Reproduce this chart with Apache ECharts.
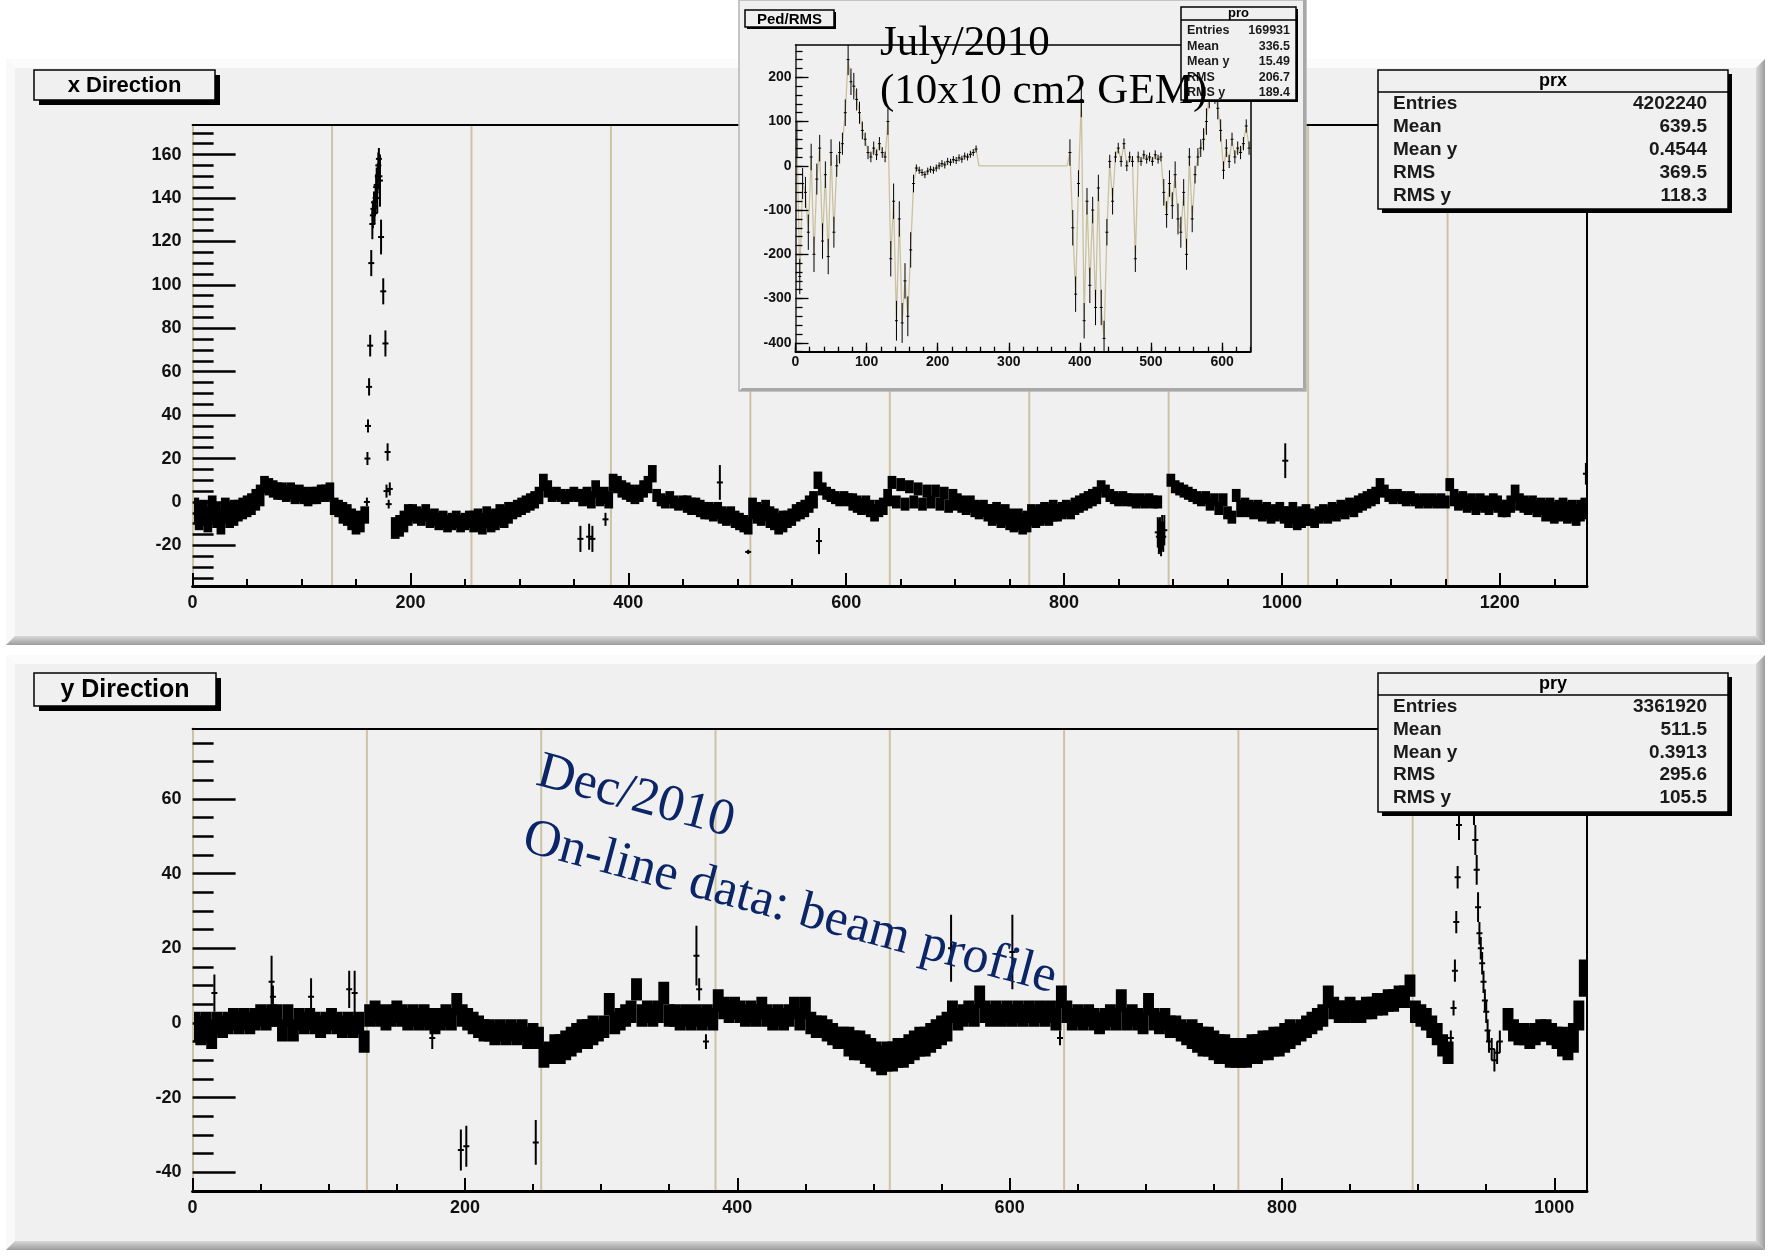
<!DOCTYPE html>
<html>
<head>
<meta charset="utf-8">
<script src="https://cdn.jsdelivr.net/npm/echarts@6/dist/echarts.min.js"></script>
<style>
  html, body { margin: 0; padding: 0; background: #ffffff; }
  #main { width: 1776px; height: 1257px; }
</style>
</head>
<body>
<div id="main"></div>
<script>
// ---------------------------------------------------------------
// Profile data: one stored point per BIN strips (value, error)
// ---------------------------------------------------------------
const BIN = 4;

// x Direction profile (prx), strips 0..1279, rows of 64 strips
const prxValues = [
  -4,-7,-5,-8,-3,-6,-9,-4,-6,-5,-4,-3,-2,-1,1,3,
  8,7,6,5,5,4,5,3,4,3,2,3,3,4,4,5,
  -2,-3,-5,-6,-8,-10,-9,-6,null,null,null,null,null,null,-12,-11,
  -9,-6,-5,-6,-7,-5,-8,-7,-9,-8,-10,-9,-8,-10,-9,-8,
  -9,-8,-10,-7,-9,-8,-6,-7,-5,-4,-3,-2,-1,0,1,3,
  9,6,3,4,3,2,3,4,3,2,3,1,6,2,3,1,
  9,8,6,5,4,3,4,6,8,13,3,1,0,2,0,-1,
  0,-1,-2,-2,-3,-4,-4,-5,-4,-6,-7,-6,-8,-9,-10,-11,
  -3,-5,-6,-4,-7,-8,-10,-9,-8,-7,-5,-4,-3,-1,1,10,
  6,4,3,2,1,2,1,0,-1,-2,-1,-3,-5,-3,-2,2,
  9,0,8,-1,7,0,6,-1,5,0,5,-1,4,-2,3,0,
  -1,-2,-1,-3,-4,-3,-5,-6,-5,-7,-6,-8,-9,-8,-10,-9,
  -6,-7,-6,-5,-6,-4,-5,-4,-3,-4,-2,-1,0,1,2,3,
  7,5,3,2,1,2,1,1,0,1,0,1,0,0,null,null,
  10,7,6,5,4,3,2,1,2,-1,1,-3,1,-5,-7,3,
  -3,-2,-3,-4,-3,-5,-4,-6,-5,-4,-6,-7,-5,-8,-7,-6,
  -7,-8,-6,-5,-6,-4,-5,-3,-4,-2,-3,-1,0,1,2,3,
  8,5,3,2,3,2,1,2,1,0,1,0,1,0,1,0,
  8,2,0,1,-1,0,-2,0,-1,-2,0,-1,-3,-3,-1,4,
  0,-1,-2,-1,-3,-2,-4,-3,-5,-4,-3,-5,-4,-6,-4,-3
];
const prxErrors = [
  6,6,6,6,6,6,6,6,6,6,5,5,5,5,5,5,
  4,4,4,4,4,4,4,4,4,4,4,4,4,4,4,4,
  4,4,5,5,5,5,5,4,0,0,0,0,0,0,5,5,
  5,5,4,4,4,4,4,4,4,4,4,4,4,4,4,4,
  5,5,5,5,5,5,5,5,5,4,4,4,4,4,4,4,
  4,4,3,3,3,3,3,3,3,4,4,4,4,4,4,4,
  4,4,4,4,4,4,4,4,4,4,3,3,3,3,3,3,
  3,4,4,4,4,4,4,4,4,4,4,4,4,4,4,4,
  5,5,5,5,5,5,5,5,4,4,4,4,4,4,4,4,
  3,3,3,3,3,3,3,4,4,4,4,4,4,4,4,4,
  3,3,3,3,3,3,3,3,3,3,3,3,3,3,3,4,
  4,4,4,4,4,4,4,5,5,5,5,5,5,5,5,5,
  5,5,5,5,5,5,4,4,4,4,4,4,4,4,4,4,
  3,3,3,3,3,3,3,3,3,3,3,3,3,3,0,0,
  3,3,3,3,3,3,3,3,3,3,3,3,3,3,3,3,
  4,4,4,4,4,4,4,4,4,4,4,5,5,5,5,5,
  4,4,4,4,4,4,4,4,4,4,4,4,4,4,4,4,
  3,3,3,3,3,3,3,3,3,3,3,3,3,3,3,3,
  3,4,4,4,4,4,4,4,4,4,4,4,4,4,4,4,
  4,4,4,4,4,4,5,5,5,5,5,5,5,5,5,5
];
// single strips standing apart from the band: [strip, value, error]
const prxIsolated = [
  [160,0,2],[160.5,20,3],[161,35,3],[162,53,4],[163,72,5],[164,110,6],
  [165,128,7],[165.5,132,6],[166,135,4],[166.5,138,5],[167,133,5],[167.5,136,4],
  [168,140,5],[168.5,145,6],[169,146,8],[169.5,140,7],[170,150,6],[170.5,155,6],
  [171,158,5],[171.5,150,8],[172,148,12],[173,122,8],[175,97,6],[177,73,6],[178,5,3],
  [179,23,4],[180,-1,2],[181,6,3],
  [356,-17,6],[364,-16,6],[367,-17,6],[379,-8,3],[484,9,8],[510,-23,1],[575,-18,6],
  [886,-14,7],[887,-16,8],[888,-15,8],[889,-17,8],[890,-14,8],[891,-16,7],[892,-13,7],
  [1003,19,8],[1204,-5,2],[1279,13,5]
];

// y Direction profile (pry), strips 0..1023
const pryValues = [
  -1,-2,-1,-3,0,-1,0,1,0,1,0,1,2,1,2,2,
  -2,2,-2,1,0,1,0,-1,0,1,0,-1,0,-1,0,-5,
  2,3,2,1,2,3,2,1,2,1,2,1,0,1,2,1,
  5,2,1,0,-1,-2,-2,-3,-2,-3,-2,-3,-2,-4,-3,-4,
  -9,-8,-7,-7,-6,-5,-4,-3,-3,-2,-2,-1,5,0,1,2,
  3,9,2,3,2,3,8,2,2,1,2,1,2,1,2,1,
  6,4,3,4,3,2,3,2,4,2,1,2,1,2,4,1,
  4,0,-1,-1,-2,-3,-4,-4,-5,-6,-6,-7,-8,-9,-10,-9,
  -9,-8,-8,-7,-6,-5,-5,-4,-3,-2,-1,3,1,2,3,2,
  7,3,2,3,2,3,2,3,2,3,2,3,2,3,1,7,
  3,1,2,1,2,1,0,1,2,1,6,1,2,1,0,5,
  1,0,1,-1,-1,-2,-3,-3,-4,-5,-5,-6,-7,-7,-8,-8,
  -8,-8,-7,-7,-6,-6,-5,-5,-4,-3,-3,-2,-1,0,1,2,
  7,4,3,3,4,3,3,4,4,5,5,6,6,7,7,10,
  3,2,1,-1,-3,-6,-8,null,null,null,null,null,null,null,null,null,
  null,1,-2,-3,-3,-4,-3,-2,-2,-3,-4,-5,-6,-4,2,12
];
const pryErrors = [
  4,4,4,4,3,3,3,3,3,3,3,3,3,3,3,3,
  3,3,3,3,3,3,3,3,3,3,3,3,3,3,3,3,
  3,3,3,3,3,3,3,3,3,3,3,3,3,3,3,3,
  3,3,3,3,3,3,3,3,3,3,3,3,3,3,3,3,
  3,3,4,4,4,4,4,4,4,4,3,3,3,3,3,3,
  3,3,3,3,3,3,3,3,3,3,3,3,3,3,3,3,
  3,3,3,3,3,3,3,3,3,3,3,3,3,3,3,3,
  3,3,3,3,3,3,3,3,4,4,4,4,4,4,4,4,
  4,4,4,4,4,4,4,4,4,4,4,3,3,3,3,3,
  3,3,3,3,3,3,3,3,3,3,3,3,3,3,3,3,
  3,3,3,3,3,3,3,3,3,3,3,3,3,3,3,3,
  3,3,3,3,3,3,3,4,4,4,4,4,4,4,4,4,
  4,4,4,4,4,4,4,4,4,4,3,3,3,3,3,3,
  3,3,3,3,3,3,3,3,3,3,3,3,3,3,3,3,
  3,3,3,3,3,3,3,0,0,0,0,0,0,0,0,0,
  0,3,3,3,3,3,3,3,3,3,3,4,4,4,4,5
];
const pryIsolated = [
  [16,8,5],[58,11,7],[59,7,3],[87,7,5],[115,9,5],[119,8,6],[176,-4,3],
  [197,-34,5.5],[201,-33,5.5],[252,-32,6],[370,18,8],[372,9,3],[377,-5,2],
  [557,20,9],[602,19,10],[637,-4,2],
  [924,-4,2],[926,4,2],[927,14,3],[928,27,3],[929,39,3],[930,53,4],[931,64,4],
  [933,76,5],[939,74,5],[940,66,5],[941,57,4],[942,49,4],[943,41,4],[944,31,4],
  [945,24,3],[946,20,3],[947,16,3],[948,11,3],[949,6,3],[950,3,3],[951,-2,3],
  [952,-5,3],[954,-7,3],[956,-10,3],[958,-8,3],[960,-5,3]
];

// Ped/RMS profile (pro), strips 0..639
const proValues = [
  60,-250,-40,-60,-150,20,-200,-30,40,-170,-20,-205,30,-150,0,30,
  50,120,240,190,180,150,120,80,60,30,20,40,25,50,30,20,
  100,-210,-80,-350,-120,-355,-260,-340,-190,-40,-5,-10,-15,-20,-12,-8,
  -10,-5,0,5,2,10,8,14,12,18,15,22,20,26,30,38,
  0,0,0,0,0,0,0,0,0,0,0,0,0,0,0,0,
  0,0,0,0,0,0,0,0,0,0,0,0,0,0,0,0,
  30,-140,-290,-40,150,-350,-80,-270,-100,-320,-50,-320,-390,-150,10,-80,
  20,40,10,50,0,20,10,-210,20,10,25,15,20,10,25,15,
  20,-60,-110,-40,-90,-20,-120,-150,-60,-200,20,-120,-20,20,40,60,
  100,160,200,170,130,80,-10,40,10,60,20,40,30,50,90,40
];
const proErrors = [
  40,40,35,35,40,30,40,35,30,40,30,40,30,35,25,25,
  25,30,35,30,30,25,25,20,15,15,12,15,12,15,12,12,
  30,40,40,45,40,45,40,45,40,20,8,8,8,8,8,8,
  8,8,8,8,8,8,8,8,8,8,8,8,8,8,8,8,
  0,0,0,0,0,0,0,0,0,0,0,0,0,0,0,0,
  0,0,0,0,0,0,0,0,0,0,0,0,0,0,0,0,
  30,40,40,30,40,40,30,40,30,40,30,40,40,30,15,30,
  12,12,12,12,12,12,12,30,12,10,10,10,10,10,10,10,
  10,30,30,30,30,30,35,35,30,35,20,30,20,20,20,25,
  30,30,30,30,25,25,20,20,15,15,15,15,15,15,15,15
];

// chip boundaries (every 128 strips)
const chipEdgesX = [128, 256, 384, 512, 640, 768, 896, 1024, 1152];
const chipEdgesY = [128, 256, 384, 512, 640, 768, 896];

// tick labels
const prxXTicks = [0, 200, 400, 600, 800, 1000, 1200];
const prxYTicks = [-20, 0, 20, 40, 60, 80, 100, 120, 140, 160];
const pryXTicks = [0, 200, 400, 600, 800, 1000];
const pryYTicks = [-40, -20, 0, 20, 40, 60];
const proXTicks = [0, 100, 200, 300, 400, 500, 600];
const proYTicks = [-400, -300, -200, -100, 0, 100, 200];

// statistics boxes
const statNames = ['Entries', 'Mean', 'Mean y', 'RMS', 'RMS y'];
const prxStats = ['4202240', '639.5', '0.4544', '369.5', '118.3'];
const pryStats = ['3361920', '511.5', '0.3913', '295.6', '105.5'];
const proStats = ['169931', '336.5', '15.49', '206.7', '189.4'];

// ---------------------------------------------------------------
// helpers
// ---------------------------------------------------------------
function steps(a, b, s) {
  const r = [];
  for (let v = a; v <= b + 1e-9; v += s) r.push(Math.round(v * 100) / 100);
  return r;
}
function profile(values, errors) {
  const out = [];
  values.forEach((v, i) => {
    if (v === null) return;
    out.push([i * BIN + BIN / 2, v, errors[i]]);
  });
  return out;
}
const plain = v => String(v);

const FONT = 'Liberation Sans';
const BEIGE = '#cbc4a4';
const PANEL = '#f0f0f0';

function axesFor(g, r, t) {
  const base = { gridIndex: g, type: 'value', silent: true, zlevel: t.zlevel, z: 5,
                 splitLine: { show: false }, splitArea: { show: false } };
  const xb = Object.assign({}, base, { min: r.xMin, max: r.xMax });
  const yb = Object.assign({}, base, { min: r.yMin, max: r.yMax });
  const xs = [
    Object.assign({}, xb, { position: 'bottom',
      axisLine: { show: true, onZero: false, lineStyle: { color: '#000', width: t.baseWidth } },
      axisTick: { show: true, inside: true, length: t.xMajorLen, customValues: t.xTicks,
                  lineStyle: { color: '#000', width: t.xTickWidth } },
      axisLabel: { show: true, customValues: t.xTicks, margin: t.xMargin, color: '#111', formatter: plain,
                   fontFamily: FONT, fontWeight: 'bold', fontSize: t.font } }),
    Object.assign({}, xb, { position: 'bottom',
      axisLine: { show: false, onZero: false },
      axisTick: { show: true, inside: true, length: t.xMinorLen, customValues: t.xMinor,
                  lineStyle: { color: '#000', width: t.xTickWidth } },
      axisLabel: { show: false } }),
    Object.assign({}, xb, { position: 'top',
      axisLine: { show: true, onZero: false, lineStyle: { color: '#000', width: t.frameWidth } },
      axisTick: { show: false }, axisLabel: { show: false } })
  ];
  const ys = [
    Object.assign({}, yb, { position: 'left',
      axisLine: { show: true, onZero: false, lineStyle: { color: t.leftColor, width: t.leftWidth } },
      axisTick: { show: true, inside: true, length: t.yMajorLen, customValues: t.yTicks,
                  lineStyle: { color: '#000', width: t.yTickWidth } },
      axisLabel: { show: true, customValues: t.yTicks, margin: t.yMargin, color: '#111', formatter: plain,
                   fontFamily: FONT, fontWeight: 'bold', fontSize: t.font } }),
    Object.assign({}, yb, { position: 'left',
      axisLine: { show: false, onZero: false },
      axisTick: { show: true, inside: true, length: t.yMinorLen, customValues: t.yMinor,
                  lineStyle: { color: '#000', width: t.yTickWidth } },
      axisLabel: { show: false } }),
    Object.assign({}, yb, { position: 'right',
      axisLine: { show: true, onZero: false, lineStyle: { color: '#000', width: t.frameWidth } },
      axisTick: { show: false }, axisLabel: { show: false } })
  ];
  return { xs, ys };
}

// drawing routines for the custom series
function edgeItem(params, api) {
  const cs = params.coordSys;
  const px = api.coord([api.value(0), api.value(1)])[0];
  return { type: 'line', shape: { x1: px, y1: cs.y, x2: px, y2: cs.y + cs.height },
           style: { stroke: BEIGE, lineWidth: 2 } };
}
// each stored point covers its own strips and half of each neighbour,
// so that interleaved traces stay joined up
function bandItem(params, api) {
  const x = api.value(0), v = api.value(1), e = api.value(2);
  const a = api.coord([x - BIN, v + e]);
  const b = api.coord([x + BIN, v - e]);
  return { type: 'rect',
           shape: { x: a[0], y: a[1], width: b[0] - a[0], height: Math.max(b[1] - a[1], 1.5) },
           style: { fill: '#000' } };
}
function errorBar(lineWidth, half) {
  return function (params, api) {
    const x = api.value(0), v = api.value(1), e = api.value(2);
    const hi = api.coord([x, v + e]), lo = api.coord([x, v - e]), mid = api.coord([x, v]);
    return { type: 'group', children: [
      { type: 'line', shape: { x1: hi[0], y1: hi[1], x2: lo[0], y2: lo[1] },
        style: { stroke: '#000', lineWidth: lineWidth } },
      { type: 'line', shape: { x1: mid[0] - half, y1: mid[1], x2: mid[0] + half, y2: mid[1] },
        style: { stroke: '#000', lineWidth: lineWidth } }
    ] };
  };
}

// ---------------------------------------------------------------
// pads, title boxes, statistics boxes
// ---------------------------------------------------------------
const G = [];
function txt(x, y, text, font, align, zl, z, fill, rot) {
  const el = { type: 'text', x: x, y: y, silent: true, zlevel: zl, z: z,
    style: { text: text, font: font, fill: fill || '#000',
             align: align, textAlign: align, verticalAlign: 'middle', textVerticalAlign: 'middle' } };
  if (rot) el.rotation = rot;
  G.push(el);
}
function pad(x0, y0, x1, y1, b, zl) {
  G.push({ type: 'rect', silent: true, zlevel: zl, z: 0,
           shape: { x: x0, y: y0, width: x1 - x0, height: y1 - y0 }, style: { fill: PANEL } });
  G.push({ type: 'polygon', silent: true, zlevel: zl, z: 1,
           shape: { points: [[x0, y0], [x1, y0], [x1 - b, y0 + b], [x0 + b, y0 + b]] }, style: { fill: '#fbfbfb' } });
  G.push({ type: 'polygon', silent: true, zlevel: zl, z: 1,
           shape: { points: [[x0, y0], [x0 + b, y0 + b], [x0 + b, y1 - b], [x0, y1]] }, style: { fill: '#f9f9f9' } });
  G.push({ type: 'polygon', silent: true, zlevel: zl, z: 1,
           shape: { points: [[x0, y1], [x0 + b, y1 - b], [x1 - b, y1 - b], [x1, y1]] },
           style: { fill: { type: 'linear', x: 0, y: 0, x2: 0, y2: 1,
                            colorStops: [{ offset: 0, color: '#d8d8d8' }, { offset: 1, color: '#9c9c9c' }] } } });
  G.push({ type: 'polygon', silent: true, zlevel: zl, z: 1,
           shape: { points: [[x1, y0], [x1, y1], [x1 - b, y1 - b], [x1 - b, y0 + b]] },
           style: { fill: { type: 'linear', x: 0, y: 0, x2: 1, y2: 0,
                            colorStops: [{ offset: 0, color: '#d8d8d8' }, { offset: 1, color: '#9c9c9c' }] } } });
}
function titleBox(x, y, w, h, sh, text, font, zl) {
  G.push({ type: 'rect', silent: true, zlevel: zl, z: 20,
           shape: { x: x + sh, y: y + sh, width: w, height: h }, style: { fill: '#000' } });
  G.push({ type: 'rect', silent: true, zlevel: zl, z: 21,
           shape: { x: x, y: y, width: w, height: h }, style: { fill: PANEL, stroke: '#000', lineWidth: 1.5 } });
  txt(x + w / 2, y + h / 2 + 1, text, font, 'center', zl, 22);
}
function statsBox(x, y, w, h, headH, sh, title, titleFont, rowFont, rowYs, labelX, valueX, values, zl) {
  G.push({ type: 'rect', silent: true, zlevel: zl, z: 20,
           shape: { x: x + sh, y: y + sh, width: w, height: h }, style: { fill: '#000' } });
  G.push({ type: 'rect', silent: true, zlevel: zl, z: 21,
           shape: { x: x, y: y, width: w, height: h }, style: { fill: PANEL, stroke: '#000', lineWidth: 1.5 } });
  G.push({ type: 'line', silent: true, zlevel: zl, z: 22,
           shape: { x1: x, y1: y + headH, x2: x + w, y2: y + headH }, style: { stroke: '#000', lineWidth: 1.5 } });
  txt(x + w / 2, y + headH / 2, title, titleFont, 'center', zl, 23);
  statNames.forEach((n, i) => {
    txt(labelX, rowYs[i], n, rowFont, 'left', zl, 23, '#1a1a1a');
    txt(valueX, rowYs[i], values[i], rowFont, 'right', zl, 23, '#1a1a1a');
  });
}

// main pads
pad(6, 59, 1765, 645, 9, 0);
pad(6, 655, 1765, 1250, 9, 0);
titleBox(34, 70, 181, 30, 5, 'x Direction', 'bold 22px "Liberation Sans"', 0);
titleBox(34, 673, 182, 33, 5, 'y Direction', 'bold 25px "Liberation Sans"', 0);
statsBox(1378, 70, 350, 139, 22, 4, 'prx', 'bold 18px "Liberation Sans"', 'bold 19px "Liberation Sans"',
         [104, 127, 150, 173, 196], 1393, 1707, prxStats, 0);
statsBox(1378, 673, 350, 139, 22, 4, 'pry', 'bold 18px "Liberation Sans"', 'bold 19px "Liberation Sans"',
         [707, 730, 753, 775, 798], 1393, 1707, pryStats, 0);

// rotated annotation on the y pad
const ROT = -15 * Math.PI / 180;
txt(538, 771, 'Dec/2010', '52px "Liberation Serif"', 'left', 0, 30, '#0b2566', ROT);
txt(524, 837, 'On-line data: beam profile', '52px "Liberation Serif"', 'left', 0, 30, '#0b2566', ROT);

// inset pad (drawn on its own layer)
G.push({ type: 'rect', silent: true, zlevel: 1, z: 0,
         shape: { x: 739, y: 0, width: 567, height: 391 }, style: { fill: PANEL, stroke: '#b4b4b4', lineWidth: 1.5 } });
G.push({ type: 'polygon', silent: true, zlevel: 1, z: 1,
         shape: { points: [[739, 391], [742, 388], [1303, 388], [1306, 391]] }, style: { fill: '#a8a8a8' } });
G.push({ type: 'polygon', silent: true, zlevel: 1, z: 1,
         shape: { points: [[1306, 0], [1306, 391], [1303, 388], [1303, 0]] }, style: { fill: '#a8a8a8' } });
titleBox(745, 10, 89, 17, 2, 'Ped/RMS', 'bold 15px "Liberation Sans"', 1);
statsBox(1181, 7, 115, 93, 13, 2, 'pro', 'bold 13px "Liberation Sans"', 'bold 12.5px "Liberation Sans"',
         [31, 46.5, 62, 77.5, 92.5], 1187, 1290, proStats, 1);
txt(880, 44, 'July/2010', '43px "Liberation Serif"', 'left', 1, 30, '#000');
txt(880, 92, '(10x10 cm2 GEM)', '43px "Liberation Serif"', 'left', 1, 30, '#000');

// ---------------------------------------------------------------
// axes
// ---------------------------------------------------------------
const topAx = axesFor(0, { xMin: 0, xMax: 1280, yMin: -38.7, yMax: 173.6 }, {
  zlevel: 0, xTicks: prxXTicks, xMinor: steps(0, 1250, 50), yTicks: prxYTicks, yMinor: steps(-35, 170, 5),
  baseWidth: 3, frameWidth: 2, leftColor: BEIGE, leftWidth: 2,
  xMajorLen: 13, xMinorLen: 7, yMajorLen: 43, yMinorLen: 21, xTickWidth: 2, yTickWidth: 2.5,
  xMargin: 8, yMargin: 11, font: 18 });
const botAx = axesFor(1, { xMin: 0, xMax: 1024, yMin: -45, yMax: 78.9 }, {
  zlevel: 0, xTicks: pryXTicks, xMinor: steps(0, 1000, 50), yTicks: pryYTicks, yMinor: steps(-45, 75, 5),
  baseWidth: 3, frameWidth: 2, leftColor: BEIGE, leftWidth: 2,
  xMajorLen: 13, xMinorLen: 7, yMajorLen: 43, yMinorLen: 21, xTickWidth: 2, yTickWidth: 2.5,
  xMargin: 8, yMargin: 11, font: 18 });
const insAx = axesFor(2, { xMin: 0, xMax: 640, yMin: -420, yMax: 273 }, {
  zlevel: 1, xTicks: proXTicks, xMinor: steps(0, 640, 20), yTicks: proYTicks, yMinor: steps(-420, 260, 20),
  baseWidth: 2, frameWidth: 1.5, leftColor: '#222', leftWidth: 1.5,
  xMajorLen: 9, xMinorLen: 5, yMajorLen: 13, yMinorLen: 7, xTickWidth: 1.3, yTickWidth: 1.3,
  xMargin: 3, yMargin: 4, font: 14 });

// ---------------------------------------------------------------
// chart
// ---------------------------------------------------------------
const option = {
  backgroundColor: '#ffffff',
  animation: false,
  grid: [
    { left: 192.6, top: 125, width: 1394.4, height: 461, outerBoundsMode: 'none' },
    { left: 192.6, top: 728.3, width: 1394.4, height: 462.7, outerBoundsMode: 'none' },
    { left: 795.5, top: 45, width: 455, height: 306.7, zlevel: 1, outerBoundsMode: 'none' }
  ],
  xAxis: [].concat(topAx.xs, botAx.xs, insAx.xs),
  yAxis: [].concat(topAx.ys, botAx.ys, insAx.ys),
  graphic: { elements: G },
  series: [
    { type: 'custom', name: 'prx chips', xAxisIndex: 0, yAxisIndex: 0, z: 1, silent: true,
      data: chipEdgesX.map(v => [v, 0]), encode: { x: 0, y: 1 }, renderItem: edgeItem },
    { type: 'custom', name: 'prx', xAxisIndex: 0, yAxisIndex: 0, z: 3, silent: true, clip: true,
      data: profile(prxValues, prxErrors), encode: { x: 0, y: 1 }, renderItem: bandItem },
    { type: 'custom', name: 'prx single', xAxisIndex: 0, yAxisIndex: 0, z: 4, silent: true, clip: true,
      data: prxIsolated, encode: { x: 0, y: 1 }, renderItem: errorBar(2, 3) },

    { type: 'custom', name: 'pry chips', xAxisIndex: 3, yAxisIndex: 3, z: 1, silent: true,
      data: chipEdgesY.map(v => [v, 0]), encode: { x: 0, y: 1 }, renderItem: edgeItem },
    { type: 'custom', name: 'pry', xAxisIndex: 3, yAxisIndex: 3, z: 3, silent: true, clip: true,
      data: profile(pryValues, pryErrors), encode: { x: 0, y: 1 }, renderItem: bandItem },
    { type: 'custom', name: 'pry single', xAxisIndex: 3, yAxisIndex: 3, z: 4, silent: true, clip: true,
      data: pryIsolated, encode: { x: 0, y: 1 }, renderItem: errorBar(2, 3) },

    { type: 'line', name: 'pro', xAxisIndex: 6, yAxisIndex: 6, zlevel: 1, z: 3, silent: true,
      data: proValues.map((v, i) => [i * BIN + BIN / 2, v]), showSymbol: false, symbol: 'none',
      lineStyle: { color: '#c9c1a0', width: 1.3 } },
    { type: 'custom', name: 'pro errors', xAxisIndex: 6, yAxisIndex: 6, zlevel: 1, z: 4, silent: true, clip: true,
      data: profile(proValues, proErrors).filter(d => d[2] > 0), encode: { x: 0, y: 1 },
      renderItem: errorBar(1, 1.5) }
  ]
};

const chart = echarts.init(document.getElementById('main'), null, { renderer: 'canvas' });
chart.setOption(option);
</script>
</body>
</html>
